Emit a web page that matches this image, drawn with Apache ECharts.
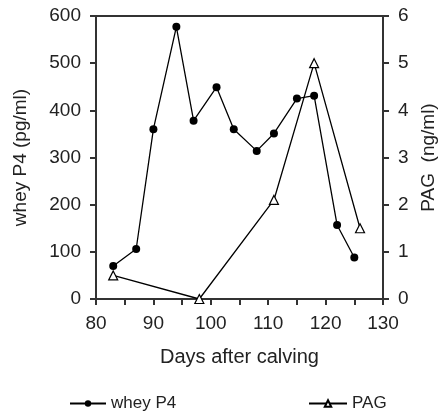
<!DOCTYPE html>
<html><head><meta charset="utf-8">
<script src="https://cdn.jsdelivr.net/npm/echarts@6/dist/echarts.min.js"></script>
<style>html,body{margin:0;padding:0;background:#fff}#c{width:438px;height:412px}</style>
</head><body><div id="c"></div>
<script>
const wheyDays = [83, 87, 90, 94, 97, 101, 104, 108, 111, 115, 118, 122, 125];
const wheyP4 = [70, 106, 360, 577, 378, 449, 360, 314, 351, 425, 431, 157, 88];
const pagDays = [83, 98, 111, 118, 126];
const pagVals = [0.5, 0, 2.1, 5.0, 1.5];
const xTicks = [80, 90, 100, 110, 120, 130];

const chart = echarts.init(document.getElementById('c'));
const font = 'Liberation Sans, Arial, sans-serif';
const axisCol = '#333';
const txt = '#222';
chart.setOption({
  animation: false,
  backgroundColor: '#fff',
  grid: {left: 96, right: 55, top: 16, bottom: 113, show: true, borderColor: axisCol, borderWidth: 2,
         outerBoundsMode: 'none', containLabel: false},
  xAxis: {
    type: 'value', min: 80, max: 130, interval: 5,
    name: 'Days after calving', nameLocation: 'middle', nameGap: 48,
    nameTextStyle: {fontFamily: font, fontSize: 20, color: txt},
    axisLine: {lineStyle: {color: axisCol, width: 2}},
    axisTick: {length: 6, lineStyle: {color: axisCol, width: 2}},
    splitLine: {show: false},
    axisLabel: {fontFamily: font, fontSize: 19, color: txt, margin: 15,
      formatter: v => xTicks.includes(v) ? String(v) : ''}
  },
  yAxis: [{
    type: 'value', min: 0, max: 600, interval: 100, position: 'left',
    name: 'whey P4 (pg/ml)', nameLocation: 'middle', nameGap: 66,
    nameTextStyle: {fontFamily: font, fontSize: 19, color: txt},
    axisLine: {show: true, lineStyle: {color: axisCol, width: 2}},
    axisTick: {show: true, length: 6, lineStyle: {color: axisCol, width: 2}},
    splitLine: {show: false},
    axisLabel: {fontFamily: font, fontSize: 19, color: txt, margin: 15}
  }, {
    type: 'value', min: 0, max: 6, interval: 1, position: 'right',
    name: 'PAG  (ng/ml)', nameLocation: 'middle', nameGap: 36,
    nameTextStyle: {fontFamily: font, fontSize: 19, color: txt},
    axisLine: {show: true, lineStyle: {color: axisCol, width: 2}},
    axisTick: {show: true, length: 6, lineStyle: {color: axisCol, width: 2}},
    splitLine: {show: false},
    axisLabel: {fontFamily: font, fontSize: 19, color: txt, margin: 15}
  }],
  legend: [{
    left: 69, top: 395, data: ['whey P4'], itemWidth: 36, itemHeight: 8, itemGap: 5,
    textStyle: {fontFamily: font, fontSize: 17, color: txt}, padding: 0
  }, {
    left: 308, top: 395, data: ['PAG'], itemWidth: 38, itemHeight: 8,
    textStyle: {fontFamily: font, fontSize: 17, color: txt}, padding: 0
  }],
  series: [{
    name: 'whey P4', type: 'line', yAxisIndex: 0,
    data: wheyDays.map((d, i) => [d, wheyP4[i]]),
    symbol: 'circle', symbolSize: 8,
    lineStyle: {color: '#000', width: 1.3},
    itemStyle: {color: '#000'}
  }, {
    name: 'PAG', type: 'line', yAxisIndex: 1,
    data: pagDays.map((d, i) => [d, pagVals[i]]),
    symbol: 'triangle', symbolSize: 9,
    lineStyle: {color: '#000', width: 1.3},
    itemStyle: {color: '#fff', borderColor: '#000', borderWidth: 1.2}
  }]
});
</script></body></html>
